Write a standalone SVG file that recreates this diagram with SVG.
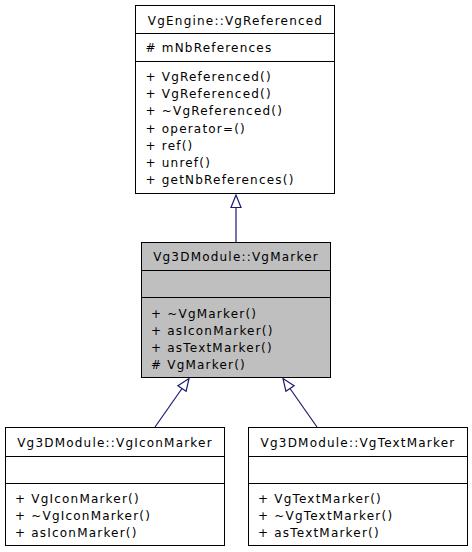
<svg xmlns="http://www.w3.org/2000/svg" width="472" height="552" viewBox="0 0 472 552">
<style>
  .box { fill: #ffffff; stroke: #000000; stroke-width: 1; }
  .cur { fill: #bfbfbf; stroke: #000000; stroke-width: 1; }
  .sep { stroke: #000000; stroke-width: 1; }
  text { font-family: "DejaVu Sans", "Noto Sans", sans-serif; font-size: 12px; letter-spacing: 1.2px; fill: #000000; }
  .t { text-anchor: middle; }
  .edge { stroke: #191970; stroke-width: 1.2; fill: none; }
  .head { stroke: #191970; stroke-width: 1.2; fill: #ffffff; }
</style>
<rect width="472" height="552" fill="#ffffff"/>
<g id="connectors">
  <line class="edge" x1="236" y1="242" x2="236" y2="207.5"/>
  <polygon class="head" points="236,195 231,207.5 241,207.5"/>
  <line class="edge" x1="155" y1="427" x2="182" y2="388.5"/>
  <polygon class="head" points="189,378.5 186.1,391.3 177.9,385.7"/>
  <line class="edge" x1="317" y1="427" x2="290" y2="388.5"/>
  <polygon class="head" points="283,378.5 285.9,391.3 294.1,385.7"/>
</g>
<g id="node_VgReferenced">
  <rect class="box" x="135.5" y="5.5" width="199" height="188"/>
  <line class="sep" x1="135.5" y1="33.5" x2="334.5" y2="33.5"/>
  <line class="sep" x1="135.5" y1="61.5" x2="334.5" y2="61.5"/>
  <text class="t" x="235.5" y="25">VgEngine::VgReferenced</text>
  <text x="145.5" y="52">#&#160;mNbReferences</text>
  <text x="145.5" y="81">+ VgReferenced()</text>
  <text x="145.5" y="98.2">+ VgReferenced()</text>
  <text x="145.5" y="115.4">+ ~VgReferenced()</text>
  <text x="145.5" y="132.6">+ operator=()</text>
  <text x="145.5" y="149.8">+ ref()</text>
  <text x="145.5" y="167">+ unref()</text>
  <text x="145.5" y="184.2">+ getNbReferences()</text>
</g>
<g id="node_VgMarker">
  <rect class="cur" x="141.5" y="242.5" width="189" height="135"/>
  <line class="sep" x1="141.5" y1="270.5" x2="330.5" y2="270.5"/>
  <line class="sep" x1="141.5" y1="297.5" x2="330.5" y2="297.5"/>
  <text class="t" x="236" y="261">Vg3DModule::VgMarker</text>
  <text x="151" y="317.5">+ ~VgMarker()</text>
  <text x="151" y="334.8">+ asIconMarker()</text>
  <text x="151" y="352">+ asTextMarker()</text>
  <text x="151" y="369.3"># VgMarker()</text>
</g>
<g id="node_VgIconMarker">
  <rect class="box" x="5.5" y="427.5" width="219" height="118"/>
  <line class="sep" x1="5.5" y1="456.5" x2="224.5" y2="456.5"/>
  <line class="sep" x1="5.5" y1="483.5" x2="224.5" y2="483.5"/>
  <text class="t" x="115" y="446.5">Vg3DModule::VgIconMarker</text>
  <text x="15" y="502.7">+ VgIconMarker()</text>
  <text x="15" y="520">+ ~VgIconMarker()</text>
  <text x="15" y="537.3">+ asIconMarker()</text>
</g>
<g id="node_VgTextMarker">
  <rect class="box" x="248.5" y="427.5" width="219" height="118"/>
  <line class="sep" x1="248.5" y1="456.5" x2="467.5" y2="456.5"/>
  <line class="sep" x1="248.5" y1="483.5" x2="467.5" y2="483.5"/>
  <text class="t" x="358" y="446.5">Vg3DModule::VgTextMarker</text>
  <text x="258" y="502.7">+ VgTextMarker()</text>
  <text x="258" y="520">+ ~VgTextMarker()</text>
  <text x="258" y="537.3">+ asTextMarker()</text>
</g>
</svg>
